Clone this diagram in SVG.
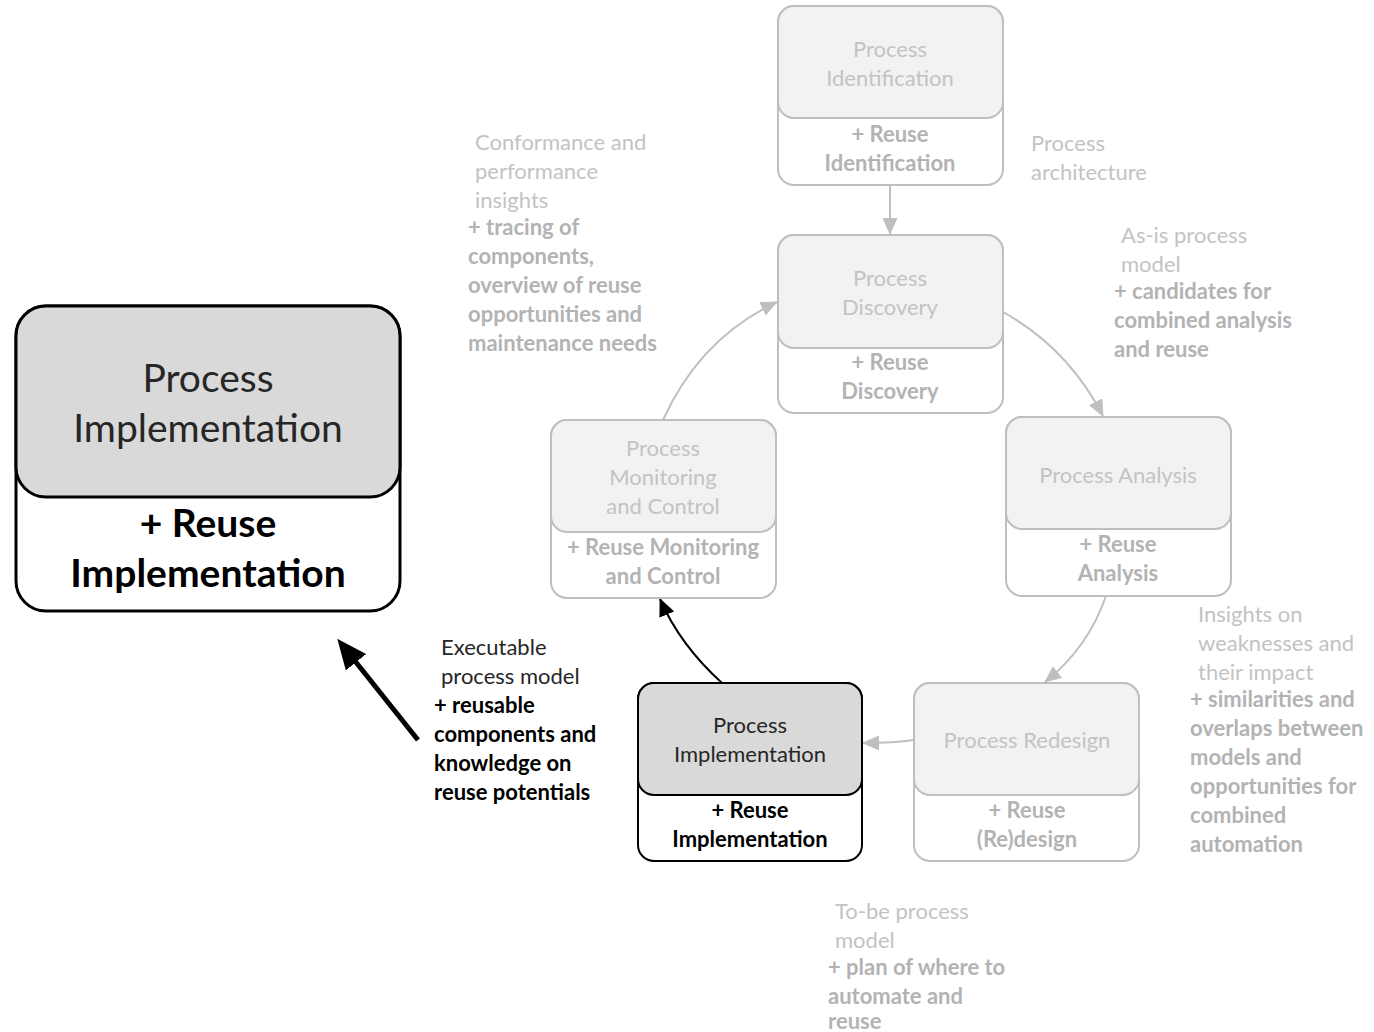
<svg xmlns="http://www.w3.org/2000/svg" width="1374" height="1032" viewBox="0 0 1374 1032">
  <style>
    text { font-family: "Lato", "Liberation Sans", sans-serif; }
    .box { fill: #ffffff; stroke: #bfbfbf; stroke-width: 2; }
    .head { fill: #f2f2f2; stroke: #bfbfbf; stroke-width: 2; }
    .box-on { fill: #ffffff; stroke: #000000; stroke-width: 2; }
    .head-on { fill: #d9d9d9; stroke: #000000; stroke-width: 2; }
    .big-box { fill: #ffffff; stroke: #000000; stroke-width: 3; }
    .big-head { fill: #d9d9d9; stroke: #000000; stroke-width: 3; }
    .t { font-size: 22px; fill: #c3c3c3; text-anchor: middle; }
    .tb { font-size: 22px; font-weight: bold; fill: #b3b3b3; text-anchor: middle; }
    .t-on { font-size: 22px; fill: #262626; text-anchor: middle; }
    .tb-on { font-size: 22px; font-weight: bold; fill: #000000; text-anchor: middle; }
    .big-t { font-size: 39px; fill: #262626; text-anchor: middle; }
    .big-tb { font-size: 39px; font-weight: bold; fill: #000000; text-anchor: middle; }
    .note { font-size: 22px; fill: #c3c3c3; }
    .note-b { font-size: 22px; font-weight: bold; fill: #b3b3b3; }
    .note-on { font-size: 22px; fill: #262626; }
    .note-on-b { font-size: 22px; font-weight: bold; fill: #000000; }
    .edge { fill: none; stroke: #bfbfbf; stroke-width: 2; }
    .edge-on { fill: none; stroke: #000000; stroke-width: 2; }
    .edge-big { fill: none; stroke: #000000; stroke-width: 5; }
  </style>
  <defs>
    <marker id="arrow-grey" markerUnits="userSpaceOnUse" markerWidth="17" markerHeight="15" refX="16" refY="7.5" orient="auto">
      <path d="M0,0 L17,7.5 L0,15 z" fill="#bfbfbf"/>
    </marker>
    <marker id="arrow-black" markerUnits="userSpaceOnUse" markerWidth="18" markerHeight="16" refX="17" refY="8" orient="auto">
      <path d="M0,0 L18,8 L0,16 z" fill="#000000"/>
    </marker>
    <marker id="arrow-big" markerUnits="userSpaceOnUse" markerWidth="32" markerHeight="26" refX="8" refY="13" orient="auto">
      <path d="M0,0 L30,13 L0,26 z" fill="#000000"/>
    </marker>
  </defs>

  <!-- connectors -->
  <g id="connectors">
    <path class="edge" d="M890,185 L890,234" marker-end="url(#arrow-grey)"/>
    <path class="edge" d="M1003,312 Q1068,348 1103,416" marker-end="url(#arrow-grey)"/>
    <path class="edge" d="M1106,596 Q1088,648 1045,682" marker-end="url(#arrow-grey)"/>
    <path class="edge" d="M914,740 Q895,743 863,743" marker-end="url(#arrow-grey)"/>
    <path class="edge-on" d="M722,683 Q680,645 660,599" marker-end="url(#arrow-black)"/>
    <path class="edge" d="M663,420 Q700,338 777,302" marker-end="url(#arrow-grey)"/>
    <path class="edge-big" d="M418,740 L351,656" marker-end="url(#arrow-big)"/>
  </g>

  <!-- Process Identification -->
  <g id="node-identification">
    <rect class="box" x="778" y="6" width="225" height="179" rx="16"/>
    <rect class="head" x="778" y="6" width="225" height="112" rx="16"/>
    <text class="t" x="890" y="57">Process</text>
    <text class="t" x="890" y="86">Identification</text>
    <text class="tb" x="890" y="142">+ Reuse</text>
    <text class="tb" x="890" y="171">Identification</text>
  </g>

  <!-- Process Discovery -->
  <g id="node-discovery">
    <rect class="box" x="778" y="235" width="225" height="178" rx="16"/>
    <rect class="head" x="778" y="235" width="225" height="113" rx="16"/>
    <text class="t" x="890" y="286">Process</text>
    <text class="t" x="890" y="315">Discovery</text>
    <text class="tb" x="890" y="370">+ Reuse</text>
    <text class="tb" x="890" y="399">Discovery</text>
  </g>

  <!-- Process Analysis -->
  <g id="node-analysis">
    <rect class="box" x="1006" y="417" width="225" height="179" rx="16"/>
    <rect class="head" x="1006" y="417" width="225" height="112" rx="16"/>
    <text class="t" x="1118" y="483">Process Analysis</text>
    <text class="tb" x="1118" y="552">+ Reuse</text>
    <text class="tb" x="1118" y="581">Analysis</text>
  </g>

  <!-- Process Redesign -->
  <g id="node-redesign">
    <rect class="box" x="914" y="683" width="225" height="178" rx="16"/>
    <rect class="head" x="914" y="683" width="225" height="112" rx="16"/>
    <text class="t" x="1027" y="748">Process Redesign</text>
    <text class="tb" x="1027" y="818">+ Reuse</text>
    <text class="tb" x="1027" y="847">(Re)design</text>
  </g>

  <!-- Process Implementation (in the cycle) -->
  <g id="node-implementation">
    <rect class="box-on" x="638" y="683" width="224" height="178" rx="16"/>
    <rect class="head-on" x="638" y="683" width="224" height="112" rx="16"/>
    <text class="t-on" x="750" y="733">Process</text>
    <text class="t-on" x="750" y="762">Implementation</text>
    <text class="tb-on" x="750" y="818">+ Reuse</text>
    <text class="tb-on" x="750" y="847">Implementation</text>
  </g>

  <!-- Process Monitoring and Control -->
  <g id="node-monitoring">
    <rect class="box" x="551" y="420" width="225" height="178" rx="16"/>
    <rect class="head" x="551" y="420" width="225" height="112" rx="16"/>
    <text class="t" x="663" y="456">Process</text>
    <text class="t" x="663" y="485">Monitoring</text>
    <text class="t" x="663" y="514">and Control</text>
    <text class="tb" x="663" y="555">+ Reuse Monitoring</text>
    <text class="tb" x="663" y="584">and Control</text>
  </g>

  <!-- Enlarged Process Implementation -->
  <g id="node-implementation-large">
    <rect class="big-box" x="16" y="306" width="384" height="305" rx="30"/>
    <rect class="big-head" x="16" y="306" width="384" height="191" rx="30"/>
    <text class="big-t" x="208" y="392">Process</text>
    <text class="big-t" x="208" y="442">Implementation</text>
    <text class="big-tb" x="208" y="537">+ Reuse</text>
    <text class="big-tb" x="208" y="587">Implementation</text>
  </g>

  <!-- artefacts passed between phases -->
  <g id="note-monitoring">
    <text class="note" x="475" y="150">Conformance and</text>
    <text class="note" x="475" y="179">performance</text>
    <text class="note" x="475" y="208">insights</text>
    <text class="note-b" x="468" y="235">+ tracing of</text>
    <text class="note-b" x="468" y="264">components,</text>
    <text class="note-b" x="468" y="293">overview of reuse</text>
    <text class="note-b" x="468" y="322">opportunities  and</text>
    <text class="note-b" x="468" y="351">maintenance needs</text>
  </g>

  <g id="note-identification">
    <text class="note" x="1031" y="151">Process</text>
    <text class="note" x="1031" y="180">architecture</text>
  </g>

  <g id="note-discovery">
    <text class="note" x="1121" y="243">As-is process</text>
    <text class="note" x="1121" y="272">model</text>
    <text class="note-b" x="1114" y="299">+ candidates for</text>
    <text class="note-b" x="1114" y="328">combined analysis</text>
    <text class="note-b" x="1114" y="357">and reuse</text>
  </g>

  <g id="note-analysis">
    <text class="note" x="1198" y="622">Insights on</text>
    <text class="note" x="1198" y="651">weaknesses and</text>
    <text class="note" x="1198" y="680">their impact</text>
    <text class="note-b" x="1190" y="707">+ similarities  and</text>
    <text class="note-b" x="1190" y="736">overlaps between</text>
    <text class="note-b" x="1190" y="765">models and</text>
    <text class="note-b" x="1190" y="794">opportunities  for</text>
    <text class="note-b" x="1190" y="823">combined</text>
    <text class="note-b" x="1190" y="852">automation</text>
  </g>

  <g id="note-redesign">
    <text class="note" x="835" y="919">To-be process</text>
    <text class="note" x="835" y="948">model</text>
    <text class="note-b" x="828" y="975">+ plan of where to</text>
    <text class="note-b" x="828" y="1004">automate and</text>
    <text class="note-b" x="828" y="1029">reuse</text>
  </g>

  <g id="note-implementation">
    <text class="note-on" x="441" y="655">Executable</text>
    <text class="note-on" x="441" y="684">process model</text>
    <text class="note-on-b" x="434" y="713">+ reusable</text>
    <text class="note-on-b" x="434" y="742">components and</text>
    <text class="note-on-b" x="434" y="771">knowledge on</text>
    <text class="note-on-b" x="434" y="800">reuse potentials</text>
  </g>
</svg>
